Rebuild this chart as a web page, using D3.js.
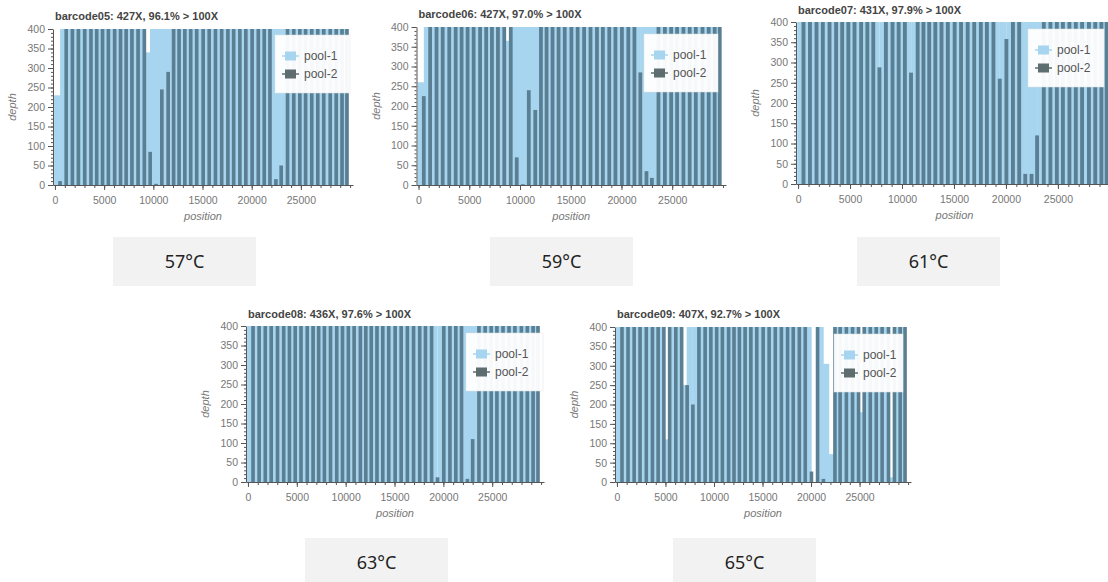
<!DOCTYPE html>
<html lang="en">
<head>
<meta charset="UTF-8" />
<title>Amplicon depth by annealing temperature</title>
<script src="https://d3js.org/d3.v7.min.js"></script>
<style>
  body { margin: 0; background: #fff; }
  svg { display: block; font-family: "Liberation Sans", Arial, sans-serif; }
  .title { font-size: 11px; font-weight: bold; fill: #444; }
  .axis-label { font-size: 11px; font-style: italic; fill: #777; }
  .axis text { font-size: 10.5px; fill: #777; font-family: "Liberation Sans", Arial, sans-serif; }
  .axis path, .axis line { stroke: #555; }
  .legend text { font-size: 12px; fill: #555; }
  .temp-label { font-family: "Noto Sans", "Open Sans", sans-serif; font-size: 18px; fill: #222; }
</style>
</head>
<body>
<svg id="chart" width="1108" height="582"></svg>
<script>
// amplicon start positions (98 amplicons, odd numbers = pool-1, even = pool-2)
const ampliconStart = [
  30, 320, 642, 943, 1242, 1573, 1875, 2181, 2505, 2826, 3144, 3460, 3771, 4044,
  4294, 4636, 4939, 5230, 5563, 5867, 6167, 6466, 6718, 7035, 7305, 7626, 7943, 8249,
  8595, 8888, 9204, 9477, 9784, 10076, 10362, 10666, 10999, 11306, 11555, 11863, 12110, 12417,
  12710, 13005, 13307, 13599, 13918, 14207, 14545, 14865, 15171, 15481, 15827, 16118, 16416, 16748,
  17065, 17381, 17674, 17966, 18253, 18596, 18896, 19204, 19548, 19844, 20172, 20472, 20786, 21075,
  21357, 21658, 21961, 22262, 22516, 22797, 23122, 23443, 23789, 24078, 24391, 24696, 24978, 25279,
  25601, 25906, 26197, 26520, 26835, 27125, 27446, 27784, 28081, 28394, 28677, 28985, 29288, 29486
];

const barcodes = ["barcode05", "barcode06", "barcode07", "barcode08", "barcode09"];
const meanDepth = [427, 427, 431, 436, 407];
const pctOver100 = [96.1, 97.0, 97.9, 97.6, 92.7];
const temperatures = ["57°C", "59°C", "61°C", "63°C", "65°C"];

// mean depth per amplicon (axis is capped at 400)
const depth05 = [
  230, 10, 400, 400, 400, 400, 400, 400, 400, 400, 400, 400, 400, 400,
  400, 400, 400, 400, 400, 400, 400, 400, 400, 400, 400, 400, 400, 400,
  400, 400, 340, 85, 400, 3, 400, 245, 400, 290, 400, 400, 400, 400,
  400, 400, 400, 400, 400, 400, 400, 400, 400, 400, 400, 400, 400, 400,
  400, 400, 400, 400, 400, 400, 400, 400, 400, 400, 400, 400, 400, 400,
  400, 400, 400, 15, 400, 50, 400, 400, 400, 400, 400, 400, 400, 400,
  400, 400, 400, 400, 400, 400, 400, 400, 400, 400, 400, 400, 400, 400
];
const depth06 = [
  260, 225, 400, 400, 400, 400, 400, 400, 400, 400, 400, 400, 400, 400,
  400, 400, 400, 400, 400, 400, 400, 400, 400, 400, 400, 400, 400, 400,
  365, 400, 400, 70, 400, 2, 400, 240, 400, 190, 400, 400, 400, 400,
  400, 400, 400, 400, 400, 400, 400, 400, 400, 400, 400, 400, 400, 400,
  400, 400, 400, 400, 400, 400, 400, 400, 400, 400, 400, 400, 400, 400,
  400, 285, 400, 35, 400, 18, 400, 400, 400, 400, 400, 400, 400, 400,
  400, 400, 400, 400, 400, 400, 400, 400, 400, 400, 400, 400, 400, 400
];
const depth07 = [
  400, 400, 400, 400, 400, 400, 400, 400, 400, 400, 400, 400, 400, 400,
  400, 400, 400, 400, 400, 400, 400, 400, 400, 400, 400, 288, 400, 400,
  400, 400, 400, 400, 400, 400, 400, 275, 400, 400, 400, 400, 400, 400,
  400, 400, 400, 400, 400, 400, 400, 400, 400, 400, 400, 400, 400, 400,
  400, 400, 400, 400, 400, 400, 400, 260, 400, 358, 400, 400, 400, 400,
  400, 25, 400, 25, 400, 120, 400, 400, 400, 400, 400, 400, 400, 400,
  400, 400, 400, 400, 400, 400, 400, 400, 400, 400, 400, 400, 400, 400
];
const depth08 = [
  400, 400, 400, 400, 400, 400, 400, 400, 400, 400, 400, 400, 400, 400,
  400, 400, 400, 400, 400, 400, 400, 400, 400, 400, 400, 400, 400, 400,
  400, 400, 400, 400, 400, 400, 400, 400, 400, 400, 400, 400, 400, 400,
  400, 400, 400, 400, 400, 400, 400, 400, 400, 400, 400, 400, 400, 400,
  400, 400, 400, 400, 400, 400, 400, 12, 400, 400, 400, 400, 400, 400,
  400, 400, 400, 8, 400, 110, 400, 400, 400, 400, 400, 400, 400, 400,
  400, 400, 400, 400, 400, 400, 400, 400, 400, 400, 400, 400, 400, 400
];
const depth09 = [
  400, 400, 400, 400, 400, 400, 400, 400, 400, 400, 400, 400, 400, 400,
  400, 400, 110, 400, 400, 400, 400, 400, 250, 250, 400, 200, 400, 400,
  400, 400, 400, 400, 400, 400, 400, 400, 400, 400, 400, 400, 400, 400,
  400, 400, 400, 400, 400, 400, 400, 400, 400, 400, 400, 400, 400, 400,
  400, 400, 400, 400, 400, 400, 400, 400, 400, 27, 0, 400, 400, 8,
  305, 0, 72, 400, 400, 400, 400, 400, 400, 400, 400, 400, 180, 400,
  400, 400, 400, 400, 400, 400, 400, 400, 12, 400, 400, 400, 400, 400
];
const depthByBarcode = [depth05, depth06, depth07, depth08, depth09];

const poolNames = ["pool-1", "pool-2"];
const yTicks = [0, 50, 100, 150, 200, 250, 300, 350, 400];
const xTicks = [0, 5000, 10000, 15000, 20000, 25000];

// drawing settings
const xDomain = [-200, 30300];
const yDomain = [0, 400];
const ampliconLength = 400;
const barWidth = { "pool-1": 640, "pool-2": 370 };
const barColor = { "pool-1": "#a7d4ee", "pool-2": "#5a7e92" };
const legendColor = { "pool-1": "#a7d4ee", "pool-2": "#5e6d6f" };

// panel layout in page pixels
const panels = [
  { left: 53, right: 353, top: 29, bottom: 185, titleY: 20, lx: 275, ly: 35, lw: 75 },
  { left: 416.5, right: 726, top: 27, bottom: 185, titleY: 18, lx: 644, ly: 34, lw: 74 },
  { left: 796, right: 1113, top: 22, bottom: 184, titleY: 14, lx: 1028, ly: 29, lw: 76 },
  { left: 246, right: 544, top: 326, bottom: 482, titleY: 318, lx: 466, ly: 333, lw: 77 },
  { left: 615, right: 911, top: 327, bottom: 482, titleY: 318, lx: 834, ly: 334, lw: 69 }
];
const tempBoxes = [
  { x: 113, y: 237 }, { x: 490, y: 237 }, { x: 857, y: 237 },
  { x: 305, y: 538 }, { x: 673, y: 538 }
];

const svg = d3.select("#chart");

panels.forEach((p, k) => {
  const g = svg.append("g");
  const x = d3.scaleLinear().domain(xDomain).range([p.left, p.right]);
  const y = d3.scaleLinear().domain(yDomain).range([p.bottom, p.top]);
  const depth = depthByBarcode[k];

  svg.append("clipPath").attr("id", "clip" + k)
    .append("rect")
    .attr("x", p.left).attr("y", p.top)
    .attr("width", p.right - p.left).attr("height", p.bottom - p.top);

  const amplicons = ampliconStart.map((s, i) => ({
    center: s + ampliconLength / 2,
    depth: Math.min(depth[i], yDomain[1]),
    pool: poolNames[i % 2]
  }));

  const plot = g.append("g").attr("clip-path", `url(#clip${k})`);
  poolNames.forEach((pool) => {
    const w = barWidth[pool];
    plot.selectAll(null)
      .data(amplicons.filter((d) => d.pool === pool))
      .join("rect")
      .attr("x", (d) => x(d.center - w / 2))
      .attr("width", (d) => x(d.center + w / 2) - x(d.center - w / 2))
      .attr("y", (d) => y(d.depth))
      .attr("height", (d) => y(0) - y(d.depth))
      .attr("fill", barColor[pool]);
  });

  // y axis with minor ticks
  g.append("g").attr("class", "axis")
    .attr("transform", `translate(${p.left},0)`)
    .call(d3.axisLeft(y).tickValues(d3.range(0, 401, 10)).tickSize(2).tickFormat(""))
    .call((a) => a.select(".domain").remove());
  g.append("g").attr("class", "axis")
    .attr("transform", `translate(${p.left},0)`)
    .call(d3.axisLeft(y).tickValues(yTicks).tickSize(5).tickSizeOuter(0).tickPadding(3));

  // x axis with minor ticks
  g.append("g").attr("class", "axis")
    .attr("transform", `translate(0,${p.bottom})`)
    .call(d3.axisBottom(x).tickValues(d3.range(0, 30001, 1000)).tickSize(3).tickFormat(""))
    .call((a) => a.select(".domain").remove());
  g.append("g").attr("class", "axis")
    .attr("transform", `translate(0,${p.bottom})`)
    .call(d3.axisBottom(x).tickValues(xTicks).tickSize(5).tickSizeOuter(0)
      .tickPadding(7).tickFormat(d3.format("d")));

  g.append("text").attr("class", "title")
    .attr("x", p.left + 2).attr("y", p.titleY)
    .text(`${barcodes[k]}: ${meanDepth[k]}X, ${pctOver100[k].toFixed(1)}% > 100X`);

  g.append("text").attr("class", "axis-label")
    .attr("text-anchor", "middle")
    .attr("x", (p.left + p.right) / 2).attr("y", p.bottom + 35)
    .text("position");

  g.append("text").attr("class", "axis-label")
    .attr("text-anchor", "middle")
    .attr("transform", `translate(${p.left - 37},${(p.top + p.bottom) / 2}) rotate(-90)`)
    .text("depth");

  // legend
  const legend = g.append("g").attr("class", "legend")
    .attr("transform", `translate(${p.lx},${p.ly})`);
  legend.append("rect")
    .attr("width", p.lw).attr("height", 58)
    .attr("fill", "#fff").attr("fill-opacity", 0.95)
    .attr("stroke", "#e5e5e5").attr("stroke-opacity", 0.5);
  poolNames.forEach((pool, j) => {
    const row = legend.append("g").attr("transform", `translate(0,${21 + j * 18})`);
    row.append("rect")
      .attr("x", 10).attr("y", -4.5).attr("width", 11).attr("height", 9)
      .attr("fill", legendColor[pool]);
    row.append("line")
      .attr("x1", 7).attr("x2", 24).attr("y1", 0).attr("y2", 0)
      .attr("stroke", legendColor[pool]).attr("stroke-width", 1.5);
    row.append("text").attr("x", 29).attr("y", 4).text(pool);
  });
});

// temperature labels under each panel
tempBoxes.forEach((b, k) => {
  const t = svg.append("g").attr("transform", `translate(${b.x},${b.y})`);
  t.append("rect").attr("width", 143).attr("height", 49).attr("fill", "#f2f2f2");
  t.append("text").attr("class", "temp-label")
    .attr("x", 71.5).attr("y", 25).attr("dy", "0.35em")
    .attr("text-anchor", "middle")
    .text(temperatures[k]);
});
</script>
</body>
</html>
